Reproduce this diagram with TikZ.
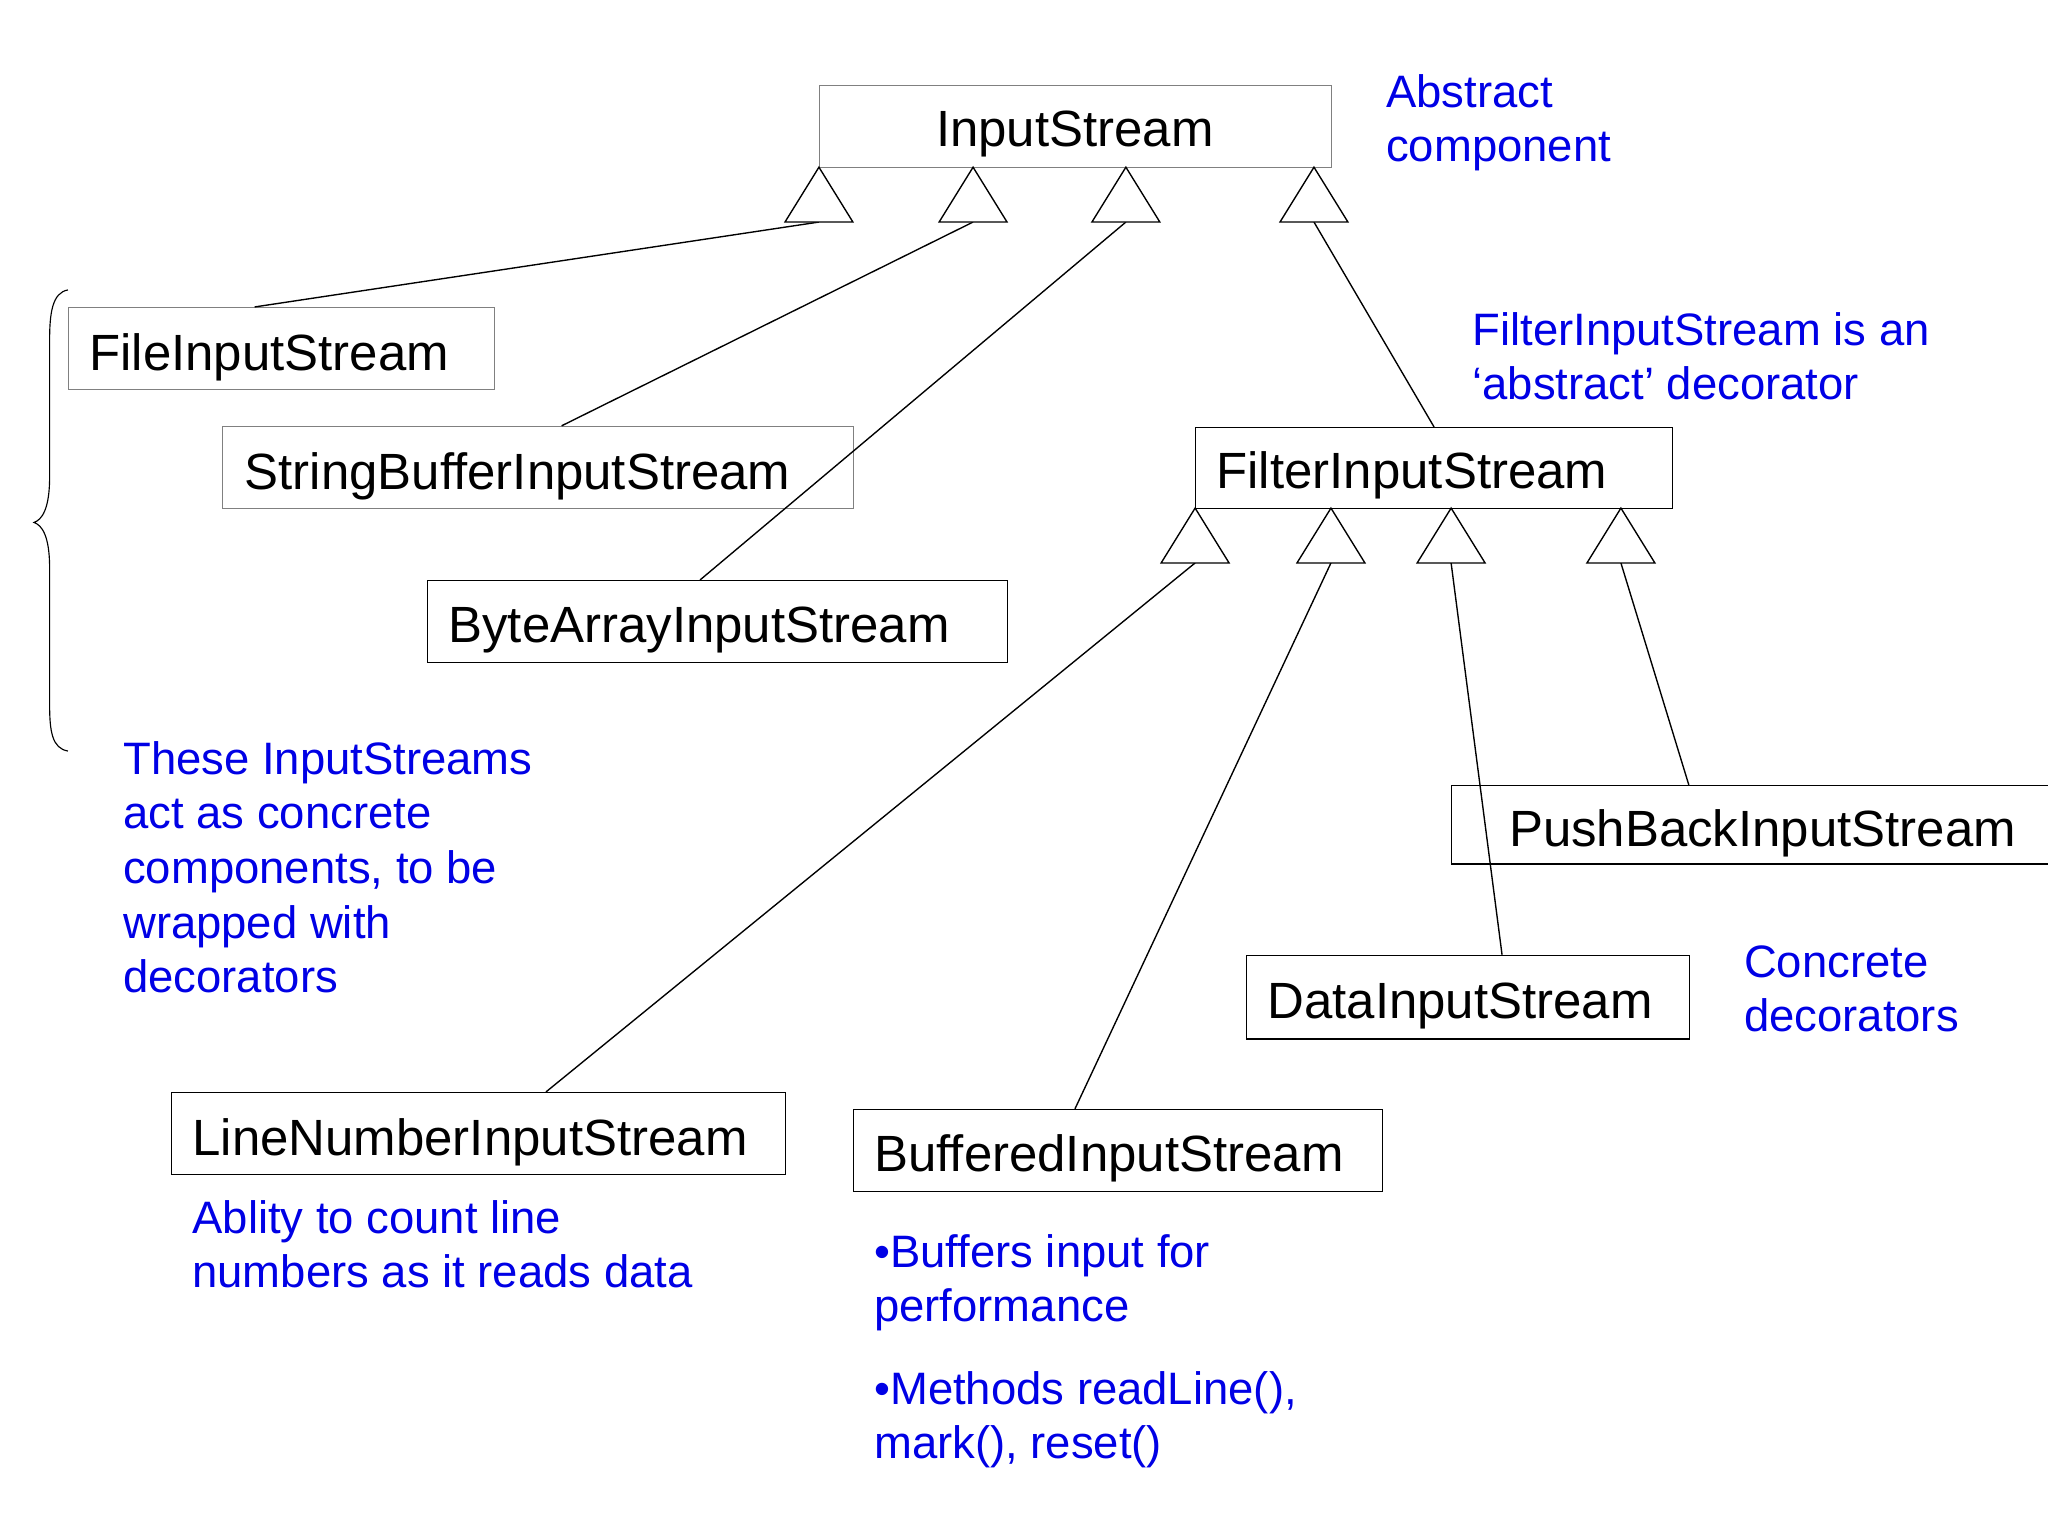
\documentclass[tikz,border=0pt]{standalone}
\usepackage{fontspec}
\setmainfont{Liberation Sans}
\begin{document}
\begin{tikzpicture}[x=0.2mm,y=-0.2mm,
 box/.style={draw=#1,line width=0.5pt,anchor=north west,inner sep=0pt},
 box/.default=black,
 lbl/.style={anchor=base west,inner sep=0pt,font=\fontsize{22.2}{26}\selectfont},
 note/.style={anchor=base west,inner sep=0pt,text=blue!90!black,align=left,font=\fontsize{19.8}{23.8}\selectfont},
 tri/.style={draw,line width=0.6pt,fill=white},
 edge/.style={line width=0.6pt}]
\useasboundingbox (0,0) rectangle (1568,1176);
% boxes
\node[box=gray,minimum width=78.4mm,minimum height=12.6mm] (is) at (627,65) {};
\node[box=gray,minimum width=65.2mm,minimum height=12.6mm] (fis) at (52,235) {};
\node[box=gray,minimum width=96.6mm,minimum height=12.6mm] (sbis) at (170,326) {};
\node[box,minimum width=88.8mm,minimum height=12.6mm] (bais) at (327,444) {};
\node[box,minimum width=73mm,minimum height=12.4mm] (filt) at (915,327) {};
\node[box,minimum width=91.4mm,minimum height=12mm] (pb) at (1111,601) {};
\node[box,minimum width=67.8mm,minimum height=12.8mm] (dis) at (954,731) {};
\node[box,minimum width=94mm,minimum height=12.6mm] (lnis) at (131,836) {};
\node[box,minimum width=81mm,minimum height=12.6mm] (bis) at (653,849) {};
% labels
\node[lbl,anchor=base] (lis) at (823,112) {InputStream};
\node[lbl] (lfis) at (68,284) {FileInputStream};
\node[lbl] (lsbis) at (187,375) {StringBufferInputStream};
\node[lbl] (lbais) at (343,492) {ByteArrayInputStream};
\node[lbl] (lfilt) at (931,374) {FilterInputStream};
\node[lbl] (lpb) at (1155,648) {PushBackInputStream};
\node[lbl] (ldis) at (970,780) {DataInputStream};
\node[lbl] (llnis) at (147,885) {LineNumberInputStream};
\node[lbl] (lbis) at (669,897) {BufferedInputStream};
% connectors
\coordinate (t1) at (627,170); \coordinate (t2) at (745,170); \coordinate (t3) at (862,170); \coordinate (t4) at (1006,170);
\coordinate (f1) at (915,431); \coordinate (f2) at (1019,431); \coordinate (f3) at (1111,431); \coordinate (f4) at (1241,431);
\coordinate (e1) at (195,235); \coordinate (e2) at (430,326); \coordinate (e3) at (536,444); \coordinate (e4) at (1098,327);
\coordinate (g1) at (418,836); \coordinate (g2) at (823,849); \coordinate (g3) at (1150,731); \coordinate (g4) at (1293,601);
\foreach \a/\b in {t1/e1,t2/e2,t3/e3,t4/e4,f1/g1,f2/g2,f3/g3,f4/g4} \draw[edge] (\a) -- (\b);
\foreach \c in {627,745,862,1006} \draw[tri] (\c,128) -- (\c+26,170) -- (\c-26,170) -- cycle;
\foreach \c in {915,1019,1111,1241} \draw[tri] (\c,389) -- (\c+26,431) -- (\c-26,431) -- cycle;
% brace
\draw[line width=0.5pt] (52,222) .. controls (40,224) and (38,240) .. (38,260) -- (38,365) .. controls (38,390) and (32,398) .. (26,400) .. controls (32,402) and (38,410) .. (38,435) -- (38,540) .. controls (38,560) and (40,573) .. (52,575);
% notes
\node[note] (n1) at (1061,124) {Abstract\\component};
\node[note] (n2) at (1127,306) {FilterInputStream is an\\‘abstract’ decorator};
\node[note] (n3) at (94,760) {These InputStreams\\act as concrete\\components, to be\\wrapped with\\decorators};
\node[note] (n4) at (1335,790) {Concrete\\decorators};
\node[note] (n5) at (147,986) {Ablity to count line\\numbers as it reads data};
\node[note] (n6) at (669,1012) {•Buffers input for\\performance};
\node[note] (n7) at (669,1117) {•Methods readLine(),\\mark(), reset()};
\end{tikzpicture}
\end{document}
